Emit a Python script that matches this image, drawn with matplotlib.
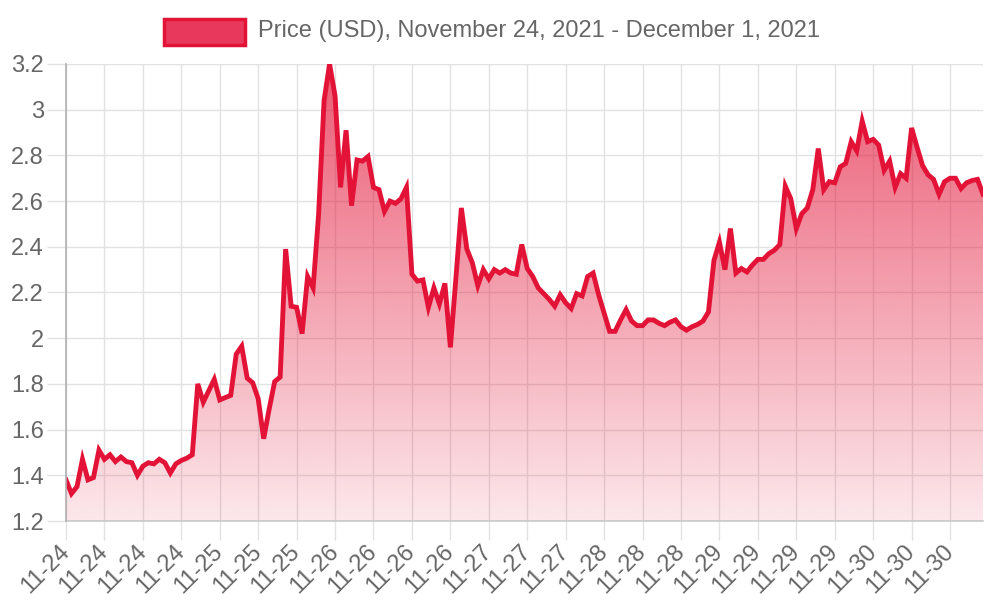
import numpy as np
import matplotlib
matplotlib.use("Agg")
import matplotlib.pyplot as plt
from matplotlib.patches import Rectangle, Polygon

plt.rcParams["font.family"] = ["Liberation Sans", "DejaVu Sans"]

# hourly prices (USD), one list per day
nov24 = [1.38, 1.32, 1.35, 1.47, 1.38, 1.39, 1.51, 1.47, 1.49, 1.46, 1.48, 1.46,
         1.455, 1.40, 1.44, 1.455, 1.45, 1.47, 1.455, 1.41, 1.45, 1.465, 1.475, 1.49]
nov25 = [1.80, 1.72, 1.77, 1.82, 1.73, 1.74, 1.75, 1.93, 1.965, 1.825, 1.805, 1.735,
         1.56, 1.69, 1.81, 1.83, 2.39, 2.14, 2.135, 2.02, 2.27, 2.22, 2.54, 3.04]
nov26 = [3.20, 3.06, 2.66, 2.91, 2.58, 2.78, 2.775, 2.795, 2.66, 2.65, 2.555, 2.60,
         2.59, 2.61, 2.66, 2.28, 2.25, 2.255, 2.135, 2.22, 2.15, 2.24, 1.96, 2.26]
nov27 = [2.57, 2.39, 2.33, 2.23, 2.30, 2.26, 2.30, 2.285, 2.30, 2.285, 2.28, 2.41,
         2.305, 2.27, 2.22, 2.195, 2.17, 2.14, 2.19, 2.155, 2.13, 2.195, 2.185, 2.27]
nov28 = [2.285, 2.19, 2.11, 2.03, 2.03, 2.08, 2.125, 2.075, 2.055, 2.055, 2.08, 2.08,
         2.065, 2.055, 2.07, 2.08, 2.05, 2.035, 2.05, 2.06, 2.075, 2.115, 2.34, 2.42]
nov29 = [2.30, 2.48, 2.285, 2.305, 2.29, 2.32, 2.345, 2.345, 2.37, 2.385, 2.41, 2.665,
         2.61, 2.48, 2.545, 2.57, 2.65, 2.83, 2.65, 2.685, 2.68, 2.75, 2.765, 2.86]
nov30 = [2.82, 2.95, 2.86, 2.87, 2.845, 2.735, 2.775, 2.66, 2.72, 2.70, 2.92, 2.835,
         2.755, 2.715, 2.695, 2.63, 2.685, 2.70, 2.70, 2.655, 2.68, 2.69, 2.695, 2.63]

tick_labels = ["11-24"] * 4 + ["11-25"] * 3 + ["11-26"] * 4 + ["11-27"] * 3 \
    + ["11-28"] * 3 + ["11-29"] * 4 + ["11-30"] * 3
y_ticks = [1.2, 1.4, 1.6, 1.8, 2.0, 2.2, 2.4, 2.6, 2.8, 3.0, 3.2]
y_labels = ["1.2", "1.4", "1.6", "1.8", "2", "2.2", "2.4", "2.6", "2.8", "3", "3.2"]
legend_label = "Price (USD), November 24, 2021 - December 1, 2021"

prices = np.array(nov24 + nov25 + nov26 + nov27 + nov28 + nov29 + nov30)
x = np.arange(len(prices))

RED = "#E31337"
GRID = "#e2e2e2"
TXT = "#666666"
FS = 17

fig = plt.figure(figsize=(10, 6), dpi=100)
ax = fig.add_axes([0.066, 1 - 521 / 600, 0.917, (521 - 64) / 600])
ax.set_xlim(0, len(prices) - 1)
ax.set_ylim(1.2, 3.2)

# gradient fill under the line
grad = np.zeros((256, 1, 4))
grad[..., 0] = 227 / 255
grad[..., 1] = 19 / 255
grad[..., 2] = 55 / 255
grad[:, 0, 3] = np.linspace(0.7, 0.1, 256)
im = ax.imshow(grad, extent=[0, len(prices) - 1, 1.2, 3.2], aspect="auto",
               origin="upper", zorder=2, interpolation="bilinear")
verts = np.column_stack([np.r_[x[0], x, x[-1]], np.r_[1.2, prices, 1.2]])
clip = Polygon(verts, closed=True, transform=ax.transData, facecolor="none", edgecolor="none")
ax.add_patch(clip)
im.set_clip_path(clip)

ax.plot(x, prices, color=RED, lw=3.5, solid_joinstyle="miter", zorder=3)

ax.set_xticks(x[::7][:len(tick_labels)])
ax.set_xticklabels(tick_labels, rotation=45, ha="right", va="center",
                   rotation_mode="anchor", fontsize=FS, color=TXT)
ax.set_yticks(y_ticks)
ax.set_yticklabels(y_labels, fontsize=FS, color=TXT)
ax.tick_params(axis="both", length=14, width=1, color=GRID)
ax.tick_params(axis="y", pad=2)
ax.tick_params(axis="x", pad=6)
ax.grid(True, color=GRID, lw=1, zorder=0)
ax.set_axisbelow(True)

for s in ["top", "right"]:
    ax.spines[s].set_visible(False)
ax.spines["left"].set_color("#b0b0b0")
ax.spines["bottom"].set_color("#c8c8c8")
ax.spines["left"].set_linewidth(1.2)
ax.spines["bottom"].set_linewidth(1.2)
ax.spines["left"].set_zorder(4)

# legend like chart.js
fig.patches.append(Rectangle((164 / 1000, 1 - 45 / 600), 81 / 1000, 26 / 600,
                             transform=fig.transFigure, facecolor="#E8395C",
                             edgecolor=RED, lw=2.5))
fig.text(258 / 1000, 1 - 31 / 600, legend_label, fontsize=FS, color=TXT,
         ha="left", va="center")

fig.savefig("out.png", dpi=100)
